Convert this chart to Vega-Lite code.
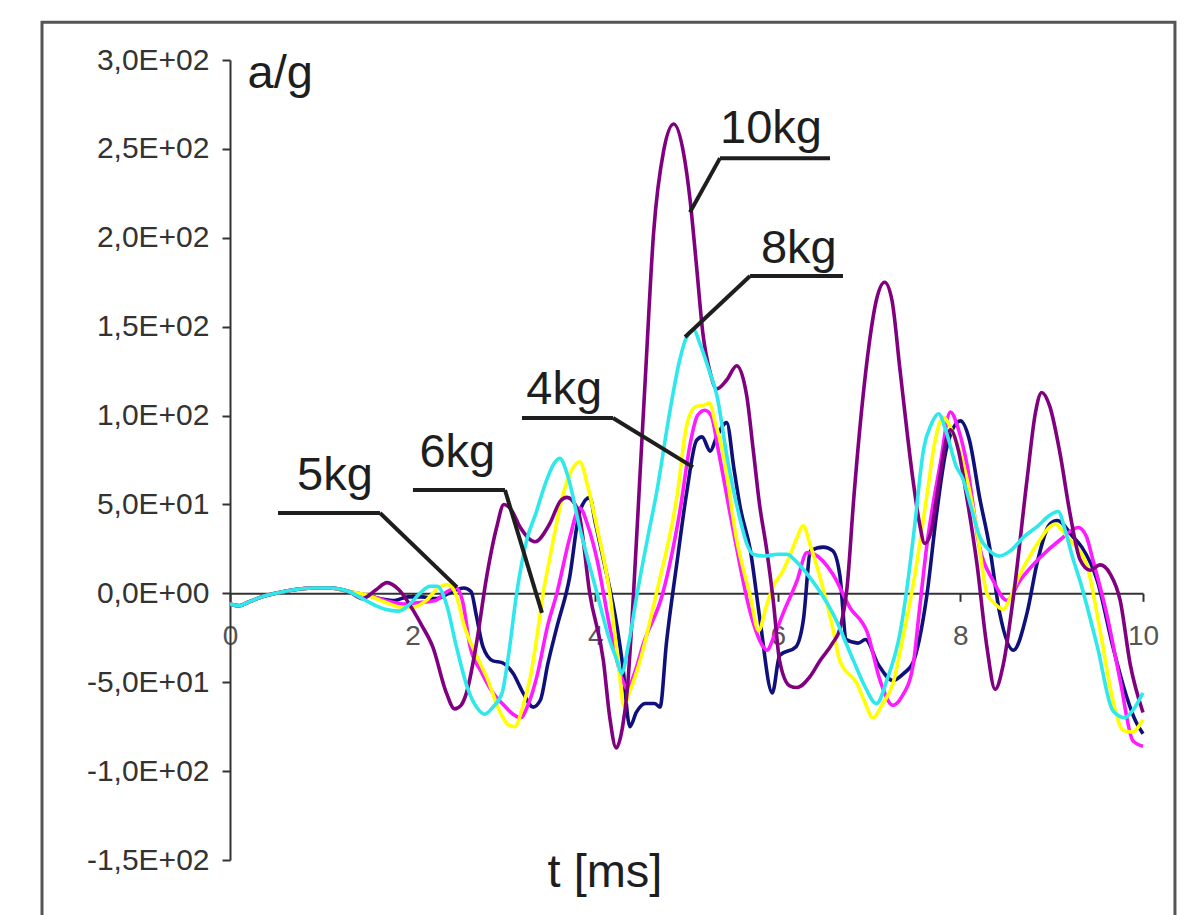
{
"$schema": "https://vega.github.io/schema/vega-lite/v6.json",
"width": 913, "height": 800,
"autosize": {"type": "none"},
"padding": {"left": 230, "top": 60, "right": 51, "bottom": 55},
"background": "white",
"config": {"font": "Liberation Sans", "view": {"stroke": null}},
"datasets": {
"frame": [{"t": -2.059, "t2": 10.35, "a": 321.3, "a2": -200}],
"leaders": [
{"t": 5.367, "a": 244.8, "t2": 6.572, "a2": 244.8},
{"t": 5.367, "a": 244.8, "t2": 5.038, "a2": 214.4},
{"t": 5.696, "a": 178.5, "t2": 6.714, "a2": 178.5},
{"t": 5.696, "a": 178.5, "t2": 4.984, "a2": 144.2},
{"t": 3.198, "a": 98.6, "t2": 4.195, "a2": 98.6},
{"t": 4.195, "a": 98.6, "t2": 5.071, "a2": 71.0},
{"t": 2.004, "a": 58.1, "t2": 3.012, "a2": 58.1},
{"t": 3.012, "a": 58.1, "t2": 3.417, "a2": -11.0},
{"t": 0.526, "a": 45.2, "t2": 1.643, "a2": 45.2},
{"t": 1.643, "a": 45.2, "t2": 2.486, "a2": 3.5}
],
"labels": [
{"t": 5.925, "a": 253.3, "txt": "10kg"},
{"t": 6.23, "a": 186.0, "txt": "8kg"},
{"t": 3.66, "a": 106.5, "txt": "4kg"},
{"t": 2.49, "a": 71.0, "txt": "6kg"},
{"t": 1.15, "a": 58.0, "txt": "5kg"},
{"t": 0.55, "a": 284.2, "txt": "a/g"},
{"t": 4.107, "a": -165.2, "txt": "t [ms]"}
],
"series": [
{"s":"4kg","t":0,"a":-6},{"s":"4kg","t":0.1,"a":-7},{"s":"4kg","t":0.2,"a":-5},{"s":"4kg","t":0.35,"a":-2},{"s":"4kg","t":0.5,"a":0},{"s":"4kg","t":0.7,"a":2},{"s":"4kg","t":0.9,"a":3},{"s":"4kg","t":1.1,"a":3},{"s":"4kg","t":1.3,"a":1},{"s":"4kg","t":1.5,"a":-1},{"s":"4kg","t":1.65,"a":-3},{"s":"4kg","t":1.8,"a":-4},{"s":"4kg","t":1.95,"a":-2},{"s":"4kg","t":2.1,"a":-2},{"s":"4kg","t":2.25,"a":-3},{"s":"4kg","t":2.4,"a":0},{"s":"4kg","t":2.56,"a":3},{"s":"4kg","t":2.64,"a":1},{"s":"4kg","t":2.7,"a":-13},{"s":"4kg","t":2.77,"a":-30},{"s":"4kg","t":2.88,"a":-38},{"s":"4kg","t":2.98,"a":-39},{"s":"4kg","t":3.1,"a":-45},{"s":"4kg","t":3.21,"a":-56},{"s":"4kg","t":3.32,"a":-64},{"s":"4kg","t":3.4,"a":-60},{"s":"4kg","t":3.48,"a":-40},{"s":"4kg","t":3.58,"a":-19},{"s":"4kg","t":3.72,"a":9},{"s":"4kg","t":3.83,"a":46},{"s":"4kg","t":3.94,"a":54},{"s":"4kg","t":4.0,"a":40},{"s":"4kg","t":4.09,"a":19},{"s":"4kg","t":4.24,"a":-19},{"s":"4kg","t":4.3,"a":-40},{"s":"4kg","t":4.38,"a":-75},{"s":"4kg","t":4.45,"a":-67},{"s":"4kg","t":4.55,"a":-62},{"s":"4kg","t":4.65,"a":-62},{"s":"4kg","t":4.71,"a":-64},{"s":"4kg","t":4.78,"a":-28},{"s":"4kg","t":4.9,"a":19},{"s":"4kg","t":5.0,"a":56},{"s":"4kg","t":5.11,"a":86},{"s":"4kg","t":5.17,"a":88},{"s":"4kg","t":5.26,"a":80},{"s":"4kg","t":5.33,"a":88},{"s":"4kg","t":5.44,"a":96},{"s":"4kg","t":5.52,"a":70},{"s":"4kg","t":5.59,"a":48},{"s":"4kg","t":5.7,"a":24},{"s":"4kg","t":5.8,"a":-13},{"s":"4kg","t":5.94,"a":-56},{"s":"4kg","t":6.02,"a":-35},{"s":"4kg","t":6.2,"a":-30},{"s":"4kg","t":6.28,"a":-15},{"s":"4kg","t":6.36,"a":24},{"s":"4kg","t":6.5,"a":26},{"s":"4kg","t":6.6,"a":24},{"s":"4kg","t":6.68,"a":10},{"s":"4kg","t":6.75,"a":-26},{"s":"4kg","t":6.88,"a":-28},{"s":"4kg","t":6.96,"a":-26},{"s":"4kg","t":7.1,"a":-40},{"s":"4kg","t":7.26,"a":-49},{"s":"4kg","t":7.38,"a":-45},{"s":"4kg","t":7.48,"a":-39},{"s":"4kg","t":7.63,"a":-2},{"s":"4kg","t":7.74,"a":45},{"s":"4kg","t":7.85,"a":82},{"s":"4kg","t":8.0,"a":97},{"s":"4kg","t":8.1,"a":86},{"s":"4kg","t":8.21,"a":54},{"s":"4kg","t":8.32,"a":26},{"s":"4kg","t":8.43,"a":-11},{"s":"4kg","t":8.58,"a":-32},{"s":"4kg","t":8.73,"a":-11},{"s":"4kg","t":8.84,"a":17},{"s":"4kg","t":8.98,"a":39},{"s":"4kg","t":9.06,"a":41},{"s":"4kg","t":9.23,"a":32},{"s":"4kg","t":9.33,"a":26},{"s":"4kg","t":9.5,"a":7},{"s":"4kg","t":9.67,"a":-30},{"s":"4kg","t":9.82,"a":-58},{"s":"4kg","t":9.92,"a":-72},{"s":"4kg","t":10,"a":-79},

{"s":"5kg","t":0,"a":-6},{"s":"5kg","t":0.1,"a":-7},{"s":"5kg","t":0.2,"a":-5},{"s":"5kg","t":0.35,"a":-2},{"s":"5kg","t":0.5,"a":0},{"s":"5kg","t":0.7,"a":2},{"s":"5kg","t":0.9,"a":3},{"s":"5kg","t":1.1,"a":3},{"s":"5kg","t":1.3,"a":1},{"s":"5kg","t":1.5,"a":-1},{"s":"5kg","t":1.7,"a":-4},{"s":"5kg","t":1.9,"a":-6},{"s":"5kg","t":2.1,"a":-5},{"s":"5kg","t":2.25,"a":-4},{"s":"5kg","t":2.38,"a":1},{"s":"5kg","t":2.48,"a":3},{"s":"5kg","t":2.55,"a":-5},{"s":"5kg","t":2.63,"a":-30},{"s":"5kg","t":2.75,"a":-44},{"s":"5kg","t":2.88,"a":-56},{"s":"5kg","t":3.0,"a":-63},{"s":"5kg","t":3.1,"a":-68},{"s":"5kg","t":3.18,"a":-70},{"s":"5kg","t":3.27,"a":-62},{"s":"5kg","t":3.36,"a":-47},{"s":"5kg","t":3.48,"a":-18},{"s":"5kg","t":3.58,"a":0},{"s":"5kg","t":3.72,"a":31},{"s":"5kg","t":3.83,"a":48},{"s":"5kg","t":3.92,"a":38},{"s":"5kg","t":4.02,"a":19},{"s":"5kg","t":4.16,"a":-19},{"s":"5kg","t":4.3,"a":-49},{"s":"5kg","t":4.35,"a":-54},{"s":"5kg","t":4.43,"a":-45},{"s":"5kg","t":4.53,"a":-28},{"s":"5kg","t":4.74,"a":0},{"s":"5kg","t":4.93,"a":47},{"s":"5kg","t":5.04,"a":84},{"s":"5kg","t":5.12,"a":100},{"s":"5kg","t":5.2,"a":103},{"s":"5kg","t":5.27,"a":100},{"s":"5kg","t":5.35,"a":80},{"s":"5kg","t":5.51,"a":36},{"s":"5kg","t":5.7,"a":-11},{"s":"5kg","t":5.84,"a":-30},{"s":"5kg","t":5.88,"a":-32},{"s":"5kg","t":5.96,"a":-24},{"s":"5kg","t":6.06,"a":-11},{"s":"5kg","t":6.21,"a":7},{"s":"5kg","t":6.32,"a":23},{"s":"5kg","t":6.4,"a":22},{"s":"5kg","t":6.6,"a":11},{"s":"5kg","t":6.79,"a":-8},{"s":"5kg","t":6.98,"a":-22},{"s":"5kg","t":7.12,"a":-49},{"s":"5kg","t":7.26,"a":-63},{"s":"5kg","t":7.36,"a":-58},{"s":"5kg","t":7.48,"a":-41},{"s":"5kg","t":7.55,"a":-10},{"s":"5kg","t":7.63,"a":26},{"s":"5kg","t":7.78,"a":73},{"s":"5kg","t":7.89,"a":102},{"s":"5kg","t":7.98,"a":92},{"s":"5kg","t":8.07,"a":73},{"s":"5kg","t":8.21,"a":26},{"s":"5kg","t":8.36,"a":7},{"s":"5kg","t":8.51,"a":-4},{"s":"5kg","t":8.65,"a":7},{"s":"5kg","t":8.87,"a":20},{"s":"5kg","t":9.09,"a":30},{"s":"5kg","t":9.29,"a":37},{"s":"5kg","t":9.38,"a":32},{"s":"5kg","t":9.45,"a":19},{"s":"5kg","t":9.6,"a":-11},{"s":"5kg","t":9.75,"a":-49},{"s":"5kg","t":9.89,"a":-83},{"s":"5kg","t":10,"a":-86},

{"s":"6kg","t":0,"a":-6},{"s":"6kg","t":0.1,"a":-7},{"s":"6kg","t":0.2,"a":-5},{"s":"6kg","t":0.35,"a":-2},{"s":"6kg","t":0.5,"a":0},{"s":"6kg","t":0.7,"a":2},{"s":"6kg","t":0.9,"a":3},{"s":"6kg","t":1.1,"a":3},{"s":"6kg","t":1.3,"a":1},{"s":"6kg","t":1.5,"a":-1},{"s":"6kg","t":1.7,"a":-5},{"s":"6kg","t":1.9,"a":-8},{"s":"6kg","t":2.0,"a":-8},{"s":"6kg","t":2.15,"a":-4},{"s":"6kg","t":2.28,"a":3},{"s":"6kg","t":2.38,"a":5},{"s":"6kg","t":2.47,"a":0},{"s":"6kg","t":2.57,"a":-19},{"s":"6kg","t":2.7,"a":-35},{"s":"6kg","t":2.81,"a":-47},{"s":"6kg","t":2.96,"a":-67},{"s":"6kg","t":3.05,"a":-74},{"s":"6kg","t":3.12,"a":-75},{"s":"6kg","t":3.2,"a":-65},{"s":"6kg","t":3.29,"a":-47},{"s":"6kg","t":3.36,"a":-25},{"s":"6kg","t":3.43,"a":0},{"s":"6kg","t":3.5,"a":19},{"s":"6kg","t":3.65,"a":56},{"s":"6kg","t":3.75,"a":70},{"s":"6kg","t":3.83,"a":74},{"s":"6kg","t":3.92,"a":60},{"s":"6kg","t":4.02,"a":37},{"s":"6kg","t":4.16,"a":0},{"s":"6kg","t":4.27,"a":-47},{"s":"6kg","t":4.31,"a":-63},{"s":"6kg","t":4.38,"a":-55},{"s":"6kg","t":4.49,"a":-38},{"s":"6kg","t":4.67,"a":0},{"s":"6kg","t":4.9,"a":56},{"s":"6kg","t":5.0,"a":94},{"s":"6kg","t":5.1,"a":105},{"s":"6kg","t":5.2,"a":106},{"s":"6kg","t":5.25,"a":107},{"s":"6kg","t":5.32,"a":95},{"s":"6kg","t":5.4,"a":79},{"s":"6kg","t":5.55,"a":30},{"s":"6kg","t":5.7,"a":-2},{"s":"6kg","t":5.79,"a":-21},{"s":"6kg","t":5.87,"a":-8},{"s":"6kg","t":5.95,"a":4},{"s":"6kg","t":6.05,"a":12},{"s":"6kg","t":6.13,"a":21},{"s":"6kg","t":6.2,"a":30},{"s":"6kg","t":6.28,"a":38},{"s":"6kg","t":6.35,"a":28},{"s":"6kg","t":6.43,"a":15},{"s":"6kg","t":6.6,"a":-19},{"s":"6kg","t":6.68,"a":-38},{"s":"6kg","t":6.87,"a":-51},{"s":"6kg","t":6.96,"a":-62},{"s":"6kg","t":7.04,"a":-70},{"s":"6kg","t":7.15,"a":-62},{"s":"6kg","t":7.26,"a":-51},{"s":"6kg","t":7.37,"a":-25},{"s":"6kg","t":7.49,"a":7},{"s":"6kg","t":7.63,"a":54},{"s":"6kg","t":7.72,"a":85},{"s":"6kg","t":7.81,"a":99},{"s":"6kg","t":7.92,"a":90},{"s":"6kg","t":8.03,"a":73},{"s":"6kg","t":8.18,"a":36},{"s":"6kg","t":8.29,"a":0},{"s":"6kg","t":8.38,"a":-6},{"s":"6kg","t":8.47,"a":-9},{"s":"6kg","t":8.55,"a":-2},{"s":"6kg","t":8.62,"a":7},{"s":"6kg","t":8.75,"a":20},{"s":"6kg","t":8.87,"a":30},{"s":"6kg","t":8.97,"a":37},{"s":"6kg","t":9.04,"a":39},{"s":"6kg","t":9.12,"a":35},{"s":"6kg","t":9.2,"a":30},{"s":"6kg","t":9.39,"a":15},{"s":"6kg","t":9.53,"a":-21},{"s":"6kg","t":9.67,"a":-60},{"s":"6kg","t":9.78,"a":-77},{"s":"6kg","t":9.88,"a":-78},{"s":"6kg","t":10,"a":-71},

{"s":"10kg","t":0,"a":-6},{"s":"10kg","t":0.1,"a":-7},{"s":"10kg","t":0.2,"a":-5},{"s":"10kg","t":0.35,"a":-2},{"s":"10kg","t":0.5,"a":0},{"s":"10kg","t":0.7,"a":2},{"s":"10kg","t":0.9,"a":3},{"s":"10kg","t":1.1,"a":3},{"s":"10kg","t":1.3,"a":1},{"s":"10kg","t":1.45,"a":-3},{"s":"10kg","t":1.6,"a":2},{"s":"10kg","t":1.72,"a":6},{"s":"10kg","t":1.85,"a":2},{"s":"10kg","t":2.0,"a":-9},{"s":"10kg","t":2.1,"a":-18},{"s":"10kg","t":2.22,"a":-30},{"s":"10kg","t":2.37,"a":-56},{"s":"10kg","t":2.46,"a":-65},{"s":"10kg","t":2.53,"a":-63},{"s":"10kg","t":2.59,"a":-56},{"s":"10kg","t":2.7,"a":-28},{"s":"10kg","t":2.81,"a":9},{"s":"10kg","t":2.92,"a":37},{"s":"10kg","t":3.0,"a":50},{"s":"10kg","t":3.08,"a":47},{"s":"10kg","t":3.18,"a":37},{"s":"10kg","t":3.34,"a":29},{"s":"10kg","t":3.5,"a":39},{"s":"10kg","t":3.62,"a":52},{"s":"10kg","t":3.69,"a":54},{"s":"10kg","t":3.78,"a":50},{"s":"10kg","t":3.83,"a":43},{"s":"10kg","t":3.94,"a":0},{"s":"10kg","t":4.09,"a":-38},{"s":"10kg","t":4.16,"a":-70},{"s":"10kg","t":4.23,"a":-87},{"s":"10kg","t":4.3,"a":-75},{"s":"10kg","t":4.35,"a":-55},{"s":"10kg","t":4.42,"a":0},{"s":"10kg","t":4.49,"a":66},{"s":"10kg","t":4.55,"a":122},{"s":"10kg","t":4.64,"a":203},{"s":"10kg","t":4.75,"a":249},{"s":"10kg","t":4.86,"a":264},{"s":"10kg","t":4.97,"a":247},{"s":"10kg","t":5.04,"a":221},{"s":"10kg","t":5.11,"a":184},{"s":"10kg","t":5.18,"a":146},{"s":"10kg","t":5.26,"a":124},{"s":"10kg","t":5.33,"a":115},{"s":"10kg","t":5.44,"a":120},{"s":"10kg","t":5.55,"a":128},{"s":"10kg","t":5.66,"a":111},{"s":"10kg","t":5.73,"a":81},{"s":"10kg","t":5.8,"a":50},{"s":"10kg","t":5.88,"a":24},{"s":"10kg","t":5.95,"a":-4},{"s":"10kg","t":6.02,"a":-38},{"s":"10kg","t":6.13,"a":-52},{"s":"10kg","t":6.21,"a":-53},{"s":"10kg","t":6.35,"a":-47},{"s":"10kg","t":6.46,"a":-38},{"s":"10kg","t":6.6,"a":-28},{"s":"10kg","t":6.68,"a":-20},{"s":"10kg","t":6.76,"a":4},{"s":"10kg","t":6.83,"a":52},{"s":"10kg","t":6.93,"a":109},{"s":"10kg","t":7.0,"a":140},{"s":"10kg","t":7.08,"a":165},{"s":"10kg","t":7.17,"a":175},{"s":"10kg","t":7.25,"a":165},{"s":"10kg","t":7.34,"a":125},{"s":"10kg","t":7.48,"a":64},{"s":"10kg","t":7.55,"a":40},{"s":"10kg","t":7.61,"a":28},{"s":"10kg","t":7.68,"a":35},{"s":"10kg","t":7.74,"a":54},{"s":"10kg","t":7.89,"a":92},{"s":"10kg","t":7.98,"a":80},{"s":"10kg","t":8.07,"a":54},{"s":"10kg","t":8.18,"a":17},{"s":"10kg","t":8.29,"a":-30},{"s":"10kg","t":8.38,"a":-54},{"s":"10kg","t":8.47,"a":-40},{"s":"10kg","t":8.58,"a":-2},{"s":"10kg","t":8.73,"a":64},{"s":"10kg","t":8.82,"a":101},{"s":"10kg","t":8.89,"a":113},{"s":"10kg","t":8.98,"a":105},{"s":"10kg","t":9.09,"a":79},{"s":"10kg","t":9.2,"a":45},{"s":"10kg","t":9.31,"a":19},{"s":"10kg","t":9.42,"a":13},{"s":"10kg","t":9.53,"a":16},{"s":"10kg","t":9.64,"a":11},{"s":"10kg","t":9.75,"a":-4},{"s":"10kg","t":9.86,"a":-40},{"s":"10kg","t":10,"a":-67},

{"s":"8kg","t":0,"a":-6},{"s":"8kg","t":0.1,"a":-7},{"s":"8kg","t":0.2,"a":-5},{"s":"8kg","t":0.35,"a":-2},{"s":"8kg","t":0.5,"a":0},{"s":"8kg","t":0.7,"a":2},{"s":"8kg","t":0.9,"a":3},{"s":"8kg","t":1.1,"a":3},{"s":"8kg","t":1.3,"a":1},{"s":"8kg","t":1.45,"a":-3},{"s":"8kg","t":1.6,"a":-7},{"s":"8kg","t":1.7,"a":-9},{"s":"8kg","t":1.85,"a":-10},{"s":"8kg","t":1.97,"a":-6},{"s":"8kg","t":2.08,"a":0},{"s":"8kg","t":2.19,"a":4},{"s":"8kg","t":2.27,"a":4},{"s":"8kg","t":2.37,"a":-6},{"s":"8kg","t":2.48,"a":-30},{"s":"8kg","t":2.6,"a":-53},{"s":"8kg","t":2.7,"a":-64},{"s":"8kg","t":2.79,"a":-68},{"s":"8kg","t":2.88,"a":-64},{"s":"8kg","t":2.98,"a":-56},{"s":"8kg","t":3.05,"a":-35},{"s":"8kg","t":3.14,"a":0},{"s":"8kg","t":3.25,"a":30},{"s":"8kg","t":3.35,"a":45},{"s":"8kg","t":3.47,"a":64},{"s":"8kg","t":3.55,"a":73},{"s":"8kg","t":3.61,"a":76},{"s":"8kg","t":3.7,"a":66},{"s":"8kg","t":3.83,"a":37},{"s":"8kg","t":4.02,"a":0},{"s":"8kg","t":4.15,"a":-25},{"s":"8kg","t":4.24,"a":-38},{"s":"8kg","t":4.29,"a":-45},{"s":"8kg","t":4.36,"a":-30},{"s":"8kg","t":4.46,"a":0},{"s":"8kg","t":4.57,"a":30},{"s":"8kg","t":4.67,"a":56},{"s":"8kg","t":4.82,"a":103},{"s":"8kg","t":4.92,"a":130},{"s":"8kg","t":5.0,"a":144},{"s":"8kg","t":5.08,"a":148},{"s":"8kg","t":5.15,"a":140},{"s":"8kg","t":5.25,"a":125},{"s":"8kg","t":5.33,"a":112},{"s":"8kg","t":5.45,"a":75},{"s":"8kg","t":5.59,"a":41},{"s":"8kg","t":5.66,"a":28},{"s":"8kg","t":5.73,"a":22},{"s":"8kg","t":5.85,"a":21},{"s":"8kg","t":6.0,"a":22},{"s":"8kg","t":6.1,"a":22},{"s":"8kg","t":6.2,"a":18},{"s":"8kg","t":6.35,"a":9},{"s":"8kg","t":6.6,"a":-11},{"s":"8kg","t":6.83,"a":-38},{"s":"8kg","t":6.95,"a":-52},{"s":"8kg","t":7.08,"a":-62},{"s":"8kg","t":7.2,"a":-48},{"s":"8kg","t":7.34,"a":-22},{"s":"8kg","t":7.42,"a":5},{"s":"8kg","t":7.49,"a":34},{"s":"8kg","t":7.6,"a":82},{"s":"8kg","t":7.68,"a":95},{"s":"8kg","t":7.76,"a":101},{"s":"8kg","t":7.85,"a":90},{"s":"8kg","t":7.95,"a":72},{"s":"8kg","t":8.03,"a":64},{"s":"8kg","t":8.12,"a":48},{"s":"8kg","t":8.21,"a":32},{"s":"8kg","t":8.32,"a":24},{"s":"8kg","t":8.43,"a":21},{"s":"8kg","t":8.55,"a":24},{"s":"8kg","t":8.7,"a":32},{"s":"8kg","t":8.85,"a":38},{"s":"8kg","t":8.98,"a":44},{"s":"8kg","t":9.07,"a":46},{"s":"8kg","t":9.15,"a":35},{"s":"8kg","t":9.23,"a":20},{"s":"8kg","t":9.31,"a":7},{"s":"8kg","t":9.5,"a":-30},{"s":"8kg","t":9.67,"a":-66},{"s":"8kg","t":9.8,"a":-70},{"s":"8kg","t":9.9,"a":-65},{"s":"8kg","t":10,"a":-56}
]
},
"layer": [
{
"data": {"name": "frame"},
"mark": {"type": "rect", "fill": null, "stroke": "#555555", "strokeWidth": 3},
"encoding": {
"x": {"field": "t", "type": "quantitative", "title": null},
"x2": {"field": "t2"},
"y": {"field": "a", "type": "quantitative", "title": null},
"y2": {"field": "a2"}
}
},
{
"data": {"name": "series"},
"mark": {"type": "line", "interpolate": "monotone", "strokeWidth": 3.6, "strokeJoin": "round"},
"encoding": {
"x": {"field": "t", "type": "quantitative", "title": null,
"scale": {"domain": [0, 10], "nice": false, "zero": false},
"axis": {"orient": "bottom", "offset": -266.67, "values": [0, 2, 4, 6, 8, 10], "format": "d", "grid": false,
"labelFontSize": 28, "labelColor": "#555555", "labelPadding": 21, "labelFlush": false,
"tickSize": 8, "tickColor": "#333333", "tickWidth": 2, "domainColor": "#333333", "domainWidth": 2}},
"y": {"field": "a", "type": "quantitative", "title": null,
"scale": {"domain": [-150, 300], "nice": false, "zero": false},
"axis": {"values": [-150, -100, -50, 0, 50, 100, 150, 200, 250, 300], "grid": false,
"labelExpr": "replace(replace(replace(format(datum.value, '.1e'), '.', ','), 'e+', 'E+0'), '\u2212', '-')",
"labelFontSize": 30, "labelColor": "#333333", "labelPadding": 13, "labelFlush": false,
"tickSize": 8, "tickColor": "#333333", "tickWidth": 2, "domainColor": "#333333", "domainWidth": 2}},
"color": {"field": "s", "type": "nominal", "legend": null,
"scale": {"domain": ["4kg", "5kg", "6kg", "10kg", "8kg"], "range": ["#10107a", "#ff1aff", "#ffff00", "#800080", "#2ee8ec"]}}
}
},
{
"data": {"name": "leaders"},
"mark": {"type": "rule", "color": "#1e1e1e", "strokeWidth": 4},
"encoding": {
"x": {"field": "t", "type": "quantitative", "title": null},
"x2": {"field": "t2"},
"y": {"field": "a", "type": "quantitative", "title": null},
"y2": {"field": "a2"}
}
},
{
"data": {"name": "labels"},
"mark": {"type": "text", "fontSize": 47, "color": "#1e1e1e", "align": "center", "baseline": "alphabetic"},
"encoding": {
"x": {"field": "t", "type": "quantitative", "title": null},
"y": {"field": "a", "type": "quantitative", "title": null},
"text": {"field": "txt"}
}
}
]
}
